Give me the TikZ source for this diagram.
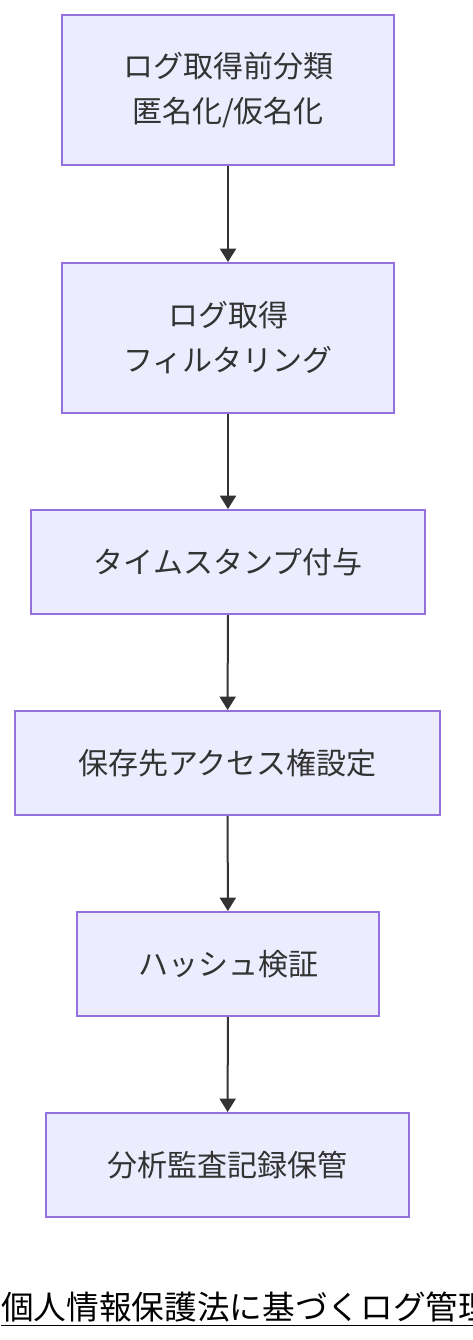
\documentclass[tikz,border=0pt]{standalone}
\usepackage{fontspec}
\setmainfont{Noto Sans CJK JP}
\usetikzlibrary{arrows.meta}
\definecolor{boxfill}{HTML}{ECECFF}
\definecolor{boxline}{HTML}{9370DB}
\definecolor{ink}{HTML}{333333}
\tikzset{
	stepbox/.style={draw=boxline, fill=boxfill, line width=1.5pt, text=ink,
		align=center, font=\fontsize{22.5}{33.75}\selectfont, inner sep=0pt},
	flow/.style={draw=ink, line width=1.5pt, -{Triangle[width=12pt,length=10pt]}}
}
\begin{document}
\begin{tikzpicture}[x=0.75pt, y=-0.75pt]
	\useasboundingbox (0,0) rectangle (472,1340);
	\node[stepbox, minimum width=249pt, minimum height=112.5pt] (classify) at (228,90) {ログ取得前分類\\匿名化/仮名化};
	\node[stepbox, minimum width=249pt, minimum height=112.5pt] (collect) at (228,338) {ログ取得\\フィルタリング};
	\node[stepbox, minimum width=295.5pt, minimum height=78pt] (stamp) at (228,562) {タイムスタンプ付与};
	\node[stepbox, minimum width=318.75pt, minimum height=78pt] (store) at (227.5,763) {保存先アクセス権設定};
	\node[stepbox, minimum width=226.5pt, minimum height=78pt] (hash) at (228,964) {ハッシュ検証};
	\node[stepbox, minimum width=272.25pt, minimum height=78pt] (audit) at (227.5,1165) {分析監査記録保管};
%% connectors
	\draw[flow] (classify) -- (collect);
	\draw[flow] (collect) -- (stamp);
	\draw[flow] (stamp) -- (store);
	\draw[flow] (store) -- (hash);
	\draw[flow] (hash) -- (audit);
%% title
	\node[anchor=base west, inner sep=0pt, font=\fontsize{24.5}{28}\selectfont] (title) at (1,1319) {個人情報保護法に基づくログ管理};
	\draw[line width=1.2pt] ([yshift=-5pt]title.base west) -- ([yshift=-5pt]title.base east);
\end{tikzpicture}
\end{document}
